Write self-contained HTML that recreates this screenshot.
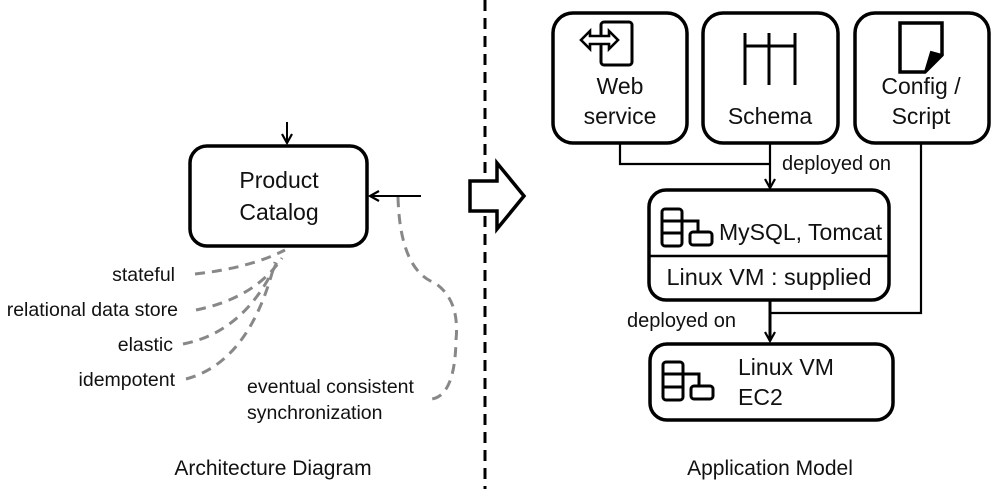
<!DOCTYPE html>
<html><head><meta charset="utf-8"><style>
html,body{margin:0;padding:0;background:#fff;}
svg{display:block;}
text{font-family:"Liberation Sans",sans-serif;fill:#111;}
</style></head><body>
<svg width="1000" height="489" viewBox="0 0 1000 489" xmlns="http://www.w3.org/2000/svg">
<defs>
<marker id="ah" markerWidth="12" markerHeight="12" refX="10" refY="6" orient="auto" markerUnits="userSpaceOnUse">
<path d="M1,1 L10,6 L1,11" fill="none" stroke="#000" stroke-width="2.2"/>
</marker>
</defs>
<line x1="485" y1="0" x2="485" y2="489" stroke="#000" stroke-width="3" stroke-dasharray="11,7"/>
<path d="M470,181 L497,181 L497,163 L524,196 L497,229 L497,211 L470,211 Z" fill="#fff" stroke="#000" stroke-width="3.5" stroke-linejoin="miter"/>

<rect x="190" y="146" width="177" height="100" rx="17" fill="none" stroke="#000" stroke-width="3.5"/>
<text x="279" y="188" font-size="23" text-anchor="middle">Product</text>
<text x="279" y="220" font-size="23" text-anchor="middle">Catalog</text>
<line x1="287" y1="122" x2="287" y2="143" stroke="#000" stroke-width="2" marker-end="url(#ah)"/>
<line x1="421" y1="196" x2="370" y2="196" stroke="#000" stroke-width="2" marker-end="url(#ah)"/>

<g fill="none" stroke="#888" stroke-width="3" stroke-dasharray="10,7">
<path d="M195,274 Q250,268 285,250"/>
<path d="M196,310 Q255,298 282,258"/>
<path d="M183,344 Q245,332 277,262"/>
<path d="M186,379 Q250,362 275,262"/>
<path d="M398,197 Q400,270 435,283 Q460,300 456,340 Q455,395 432,399"/>
</g>
<g font-size="19.5">
<text x="175" y="281" text-anchor="end">stateful</text>
<text x="178" y="316" text-anchor="end">relational data store</text>
<text x="173" y="351" text-anchor="end">elastic</text>
<text x="175" y="386" text-anchor="end">idempotent</text>
<text x="247" y="393">eventual consistent</text>
<text x="247" y="419">synchronization</text>
</g>

<rect x="553" y="13" width="134" height="130" rx="20" fill="none" stroke="#000" stroke-width="3.5"/>
<rect x="703" y="13" width="135" height="130" rx="20" fill="none" stroke="#000" stroke-width="3.5"/>
<rect x="855" y="13" width="134" height="130" rx="20" fill="none" stroke="#000" stroke-width="3.5"/>
<g font-size="23" text-anchor="middle">
<text x="620" y="94">Web</text>
<text x="620" y="124">service</text>
<text x="770" y="124">Schema</text>
<text x="921" y="94">Config /</text>
<text x="921" y="124">Script</text>
</g>
<rect x="601" y="22" width="31" height="43" rx="3" fill="none" stroke="#000" stroke-width="3"/>
<path d="M581,40 L590,31 L590,36 L609,36 L609,31 L618,40 L609,49 L609,44 L590,44 L590,49 Z" fill="#fff" stroke="#000" stroke-width="2.6" stroke-linejoin="miter"/>
<g stroke="#000" stroke-width="3">
<line x1="745" y1="33" x2="745" y2="85"/>
<line x1="769" y1="33" x2="769" y2="85"/>
<line x1="795" y1="33" x2="795" y2="85"/>
<line x1="745" y1="46" x2="795" y2="46"/>
</g>
<path d="M900,23 L942,23 L942,55 L925,72 L900,72 Z" fill="none" stroke="#000" stroke-width="3.5" stroke-linejoin="miter"/>
<path d="M942,55 L931,52 L925,72 Z" fill="#000" stroke="#000" stroke-width="2"/>

<polyline points="620,143 620,164 770,164" fill="none" stroke="#000" stroke-width="2.2"/>
<line x1="770" y1="143" x2="770" y2="188" stroke="#000" stroke-width="2.2" marker-end="url(#ah)"/>
<text x="782" y="170" font-size="20">deployed on</text>
<polyline points="921,143 921,313 770,313" fill="none" stroke="#000" stroke-width="2.2"/>
<line x1="770" y1="300" x2="770" y2="341" stroke="#000" stroke-width="3" marker-end="url(#ah)"/>
<text x="627" y="327" font-size="20">deployed on</text>

<rect x="649" y="190" width="240" height="110" rx="17" fill="none" stroke="#000" stroke-width="3.5"/>
<line x1="649" y1="256" x2="889" y2="256" stroke="#000" stroke-width="2.5"/>
<text x="719" y="240" font-size="23">MySQL, Tomcat</text>
<text x="769" y="285" font-size="23.5" text-anchor="middle">Linux VM : supplied</text>
<g fill="none" stroke="#000" stroke-width="3">
<rect x="662" y="209" width="20" height="37" rx="3"/>
<line x1="662" y1="221" x2="682" y2="221"/>
<line x1="662" y1="233" x2="682" y2="233"/>
<polyline points="682,221 698,221 698,232"/>
<rect x="690" y="232" width="22" height="13" rx="3"/>
</g>

<rect x="650" y="344" width="243" height="76" rx="17" fill="none" stroke="#000" stroke-width="3.5"/>
<text x="738" y="375" font-size="23">Linux VM</text>
<text x="738" y="405" font-size="23">EC2</text>
<g fill="none" stroke="#000" stroke-width="3">
<rect x="663" y="362" width="20" height="38" rx="3"/>
<line x1="663" y1="374" x2="683" y2="374"/>
<line x1="663" y1="387" x2="683" y2="387"/>
<polyline points="683,374 699,374 699,386"/>
<rect x="691" y="386" width="22" height="13" rx="3"/>
</g>

<text x="273" y="475" font-size="21" text-anchor="middle">Architecture Diagram</text>
<text x="770" y="475" font-size="21" text-anchor="middle">Application Model</text>
</svg>
</body></html>
